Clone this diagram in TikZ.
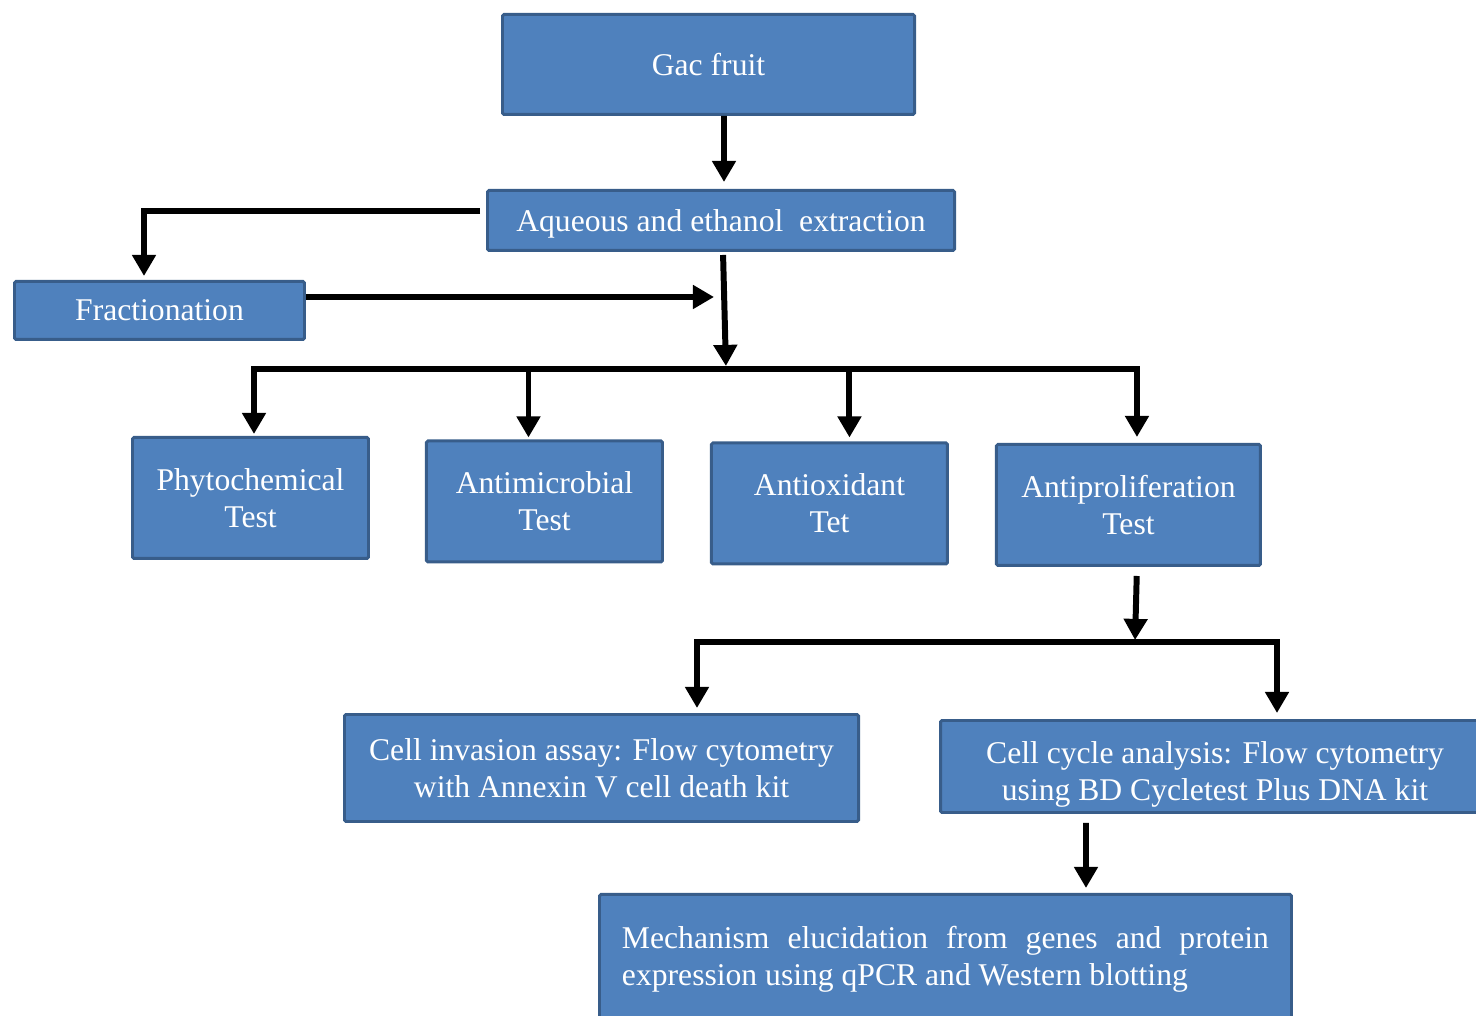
\documentclass[tikz,border=0pt]{standalone}
\usepackage{fontspec}
\setmainfont{Liberation Serif}
\usetikzlibrary{arrows.meta,positioning}
\definecolor{officeblue}{RGB}{79,129,189}
\definecolor{edgeblue}{RGB}{56,93,138}

\begin{document}
\begin{tikzpicture}[
  >={Triangle[width=13pt,length=12pt]},
  node distance=1.1cm and 0.92cm,
  box/.style={draw=edgeblue,fill=officeblue,line width=1.7pt,rounded corners=0.8pt,text=white,align=center,inner sep=0pt,font=\fontsize{18}{21}\selectfont},
  test/.style={box,minimum width=4.72cm,minimum height=2.42cm},
  flow/.style={->,line width=3.4pt}
]
  \path[clip,use as bounding box] (0,0) rectangle (29.52,20.32);

  \node[box,minimum width=8.24cm,minimum height=2.0cm] (gac) at (14.17,19.03) {Gac fruit};
  \node[box,minimum width=9.34cm,minimum height=1.2cm,text depth=0pt] (aq) at (14.42,15.91) {Aqueous and ethanol~ extraction};
  \node[box,minimum width=5.8cm,minimum height=1.16cm] (frac) at (3.19,14.11) {Fractionation};

  \node[test] (phy) at (5.01,10.36) {Phytochemical\\Test};
  \node[test,right=1.1cm of phy,yshift=-0.07cm] (mic) {Antimicrobial\\Test};
  \node[test,right=0.92cm of mic,yshift=-0.04cm] (oxi) {Antioxidant\\Tet};
  \node[test,minimum width=5.28cm,right=0.92cm of oxi,yshift=-0.03cm] (pro) {Antiproliferation\\Test};

  \node[box,minimum width=10.28cm,minimum height=2.14cm] (inv) at (12.03,4.96) {Cell invasion assay: Flow cytometry\\with Annexin V cell death kit};
  \node[box,minimum width=10.98cm,minimum height=1.84cm,text height=1.51cm] (cyc) at (24.30,4.99) {Cell cycle analysis: Flow cytometry\\using BD Cycletest Plus DNA kit};
  \node[box,anchor=north west,align=justify,text width=12.94cm,minimum width=13.84cm,inner ysep=0.63cm,text depth=2cm] (mech) at (11.96,2.46)
    {Mechanism elucidation from genes and protein\linebreak expression using qPCR and Western blotting};

  \coordinate (hub) at (14.52,12.94);
  \coordinate (hubb) at (22.70,7.48);
  \coordinate (fr) at ([yshift=0.27cm]frac.east);

  \draw[flow,shorten >=0.14cm] ([xshift=0.31cm]gac.south) -- ([xshift=0.06cm]aq.north);
  \draw[flow,shorten >=0.08cm] ([shift={(-0.12,0.19)}]aq.west) -| ([xshift=-0.31cm]frac.north);
  \draw[flow,shorten >=0.24cm] (fr) -- (fr -| hub);
  \draw[flow,shorten <=0.06cm,shorten >=0.06cm] ([xshift=0.04cm]aq.south) -- (hub);

  \draw[flow,shorten >=0.04cm] (hub) -| ([xshift=0.07cm]phy.north);
  \draw[flow,shorten >=0.04cm] (hub) -| ([xshift=-0.32cm]mic.north);
  \draw[flow,shorten >=0.08cm] (hub) -| ([xshift=0.4cm]oxi.north);
  \draw[flow,shorten >=0.12cm] (hub) -| ([xshift=0.17cm]pro.north);

  \draw[flow,shorten <=0.18cm,shorten >=0.04cm] ([xshift=0.17cm]pro.south) -- (hubb);
  \draw[flow,shorten >=0.1cm] (hubb) -| ([xshift=1.91cm]inv.north);
  \draw[flow,shorten >=0.12cm] (hubb) -| ([xshift=1.24cm]cyc.north);
  \draw[flow,shorten <=0.18cm,shorten >=0.1cm] ([xshift=-2.58cm]cyc.south) -- ([xshift=2.81cm]mech.north);
\end{tikzpicture}
\end{document}
